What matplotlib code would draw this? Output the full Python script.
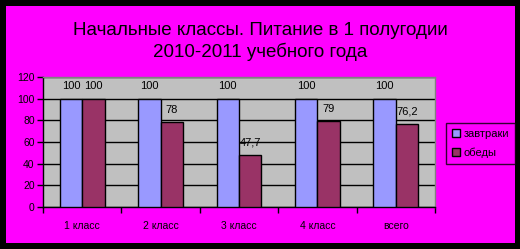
import matplotlib
matplotlib.use("Agg")
import matplotlib.pyplot as plt
import numpy as np
from matplotlib.patches import Rectangle

categories = ["1 класс", "2 класс", "3 класс", "4 класс", "всего"]
zavtraki = [100, 100, 100, 100, 100]
obedy = [100, 78, 47.7, 79, 76.2]
series_names = ["завтраки", "обеды"]
title = "Начальные классы. Питание в 1 полугодии\n2010-2011 учебного года"

plt.rcParams['font.family'] = ['Liberation Sans', 'DejaVu Sans']

W, H = 520, 249
fig = plt.figure(figsize=(W/100, H/100), dpi=100, facecolor='black')
fig.patches.append(Rectangle((6/W, 6/H), 509/W, 237/H, transform=fig.transFigure,
                             facecolor='#FF00FF', edgecolor='none', zorder=-5))

ax = fig.add_axes([43/W, 1-207/H, 392/W, 130/H])
ax.set_facecolor('#C0C0C0')

x = np.arange(len(categories))
bw = 1/3.5
b1 = ax.bar(x - bw/2, zavtraki, bw, color='#9999FF', edgecolor='black', linewidth=1, zorder=3, label=series_names[0])
b2 = ax.bar(x + bw/2, obedy, bw, color='#993366', edgecolor='black', linewidth=1, zorder=3, label=series_names[1])

def fmt(v):
    s = ('%g' % v).replace('.', ',')
    return s

for bars, vals in ((b1, zavtraki), (b2, obedy)):
    for rect, v in zip(bars, vals):
        ax.annotate(fmt(v), (rect.get_x() + rect.get_width()/2, v),
                    xytext=(0, 5.5), textcoords='offset points',
                    ha='center', va='bottom', fontsize=8, color='black', zorder=5)

ax.set_xlim(-0.5, len(categories) - 0.5)
ax.set_ylim(0, 120)
ax.set_yticks(np.arange(0, 121, 20))
ax.yaxis.grid(True, color='black', linewidth=1, zorder=1)
ax.set_axisbelow(True)
ax.set_xticks(x)
ax.set_xticklabels(categories, fontsize=7.5)
ax.set_xticks(np.arange(-0.5, len(categories)), minor=True)
ax.tick_params(axis='x', which='major', length=0, pad=10)
ax.tick_params(axis='x', which='minor', length=4, width=1, color='black', direction='out')
ax.tick_params(axis='y', length=4, width=1, direction='out', labelsize=7.5, pad=2)
for s in ['top', 'right']:
    ax.spines[s].set_color('#808080')
    ax.spines[s].set_linewidth(1)
for s in ['left', 'bottom']:
    ax.spines[s].set_color('black')
    ax.spines[s].set_linewidth(1)

fig.text(0.5, 1-41.5/H, title, ha='center', va='center', fontsize=13.5, linespacing=1.25)

leg = fig.legend(handles=[b1, b2], labels=series_names, loc='upper left',
                 bbox_to_anchor=(446/W, 1-123/H), fontsize=8, frameon=True,
                 fancybox=False, edgecolor='black', facecolor='#FF00FF',
                 handlelength=0.8, handleheight=0.8, handletextpad=0.3,
                 borderpad=0.5, labelspacing=0.8, borderaxespad=0)
leg.get_frame().set_linewidth(1)

fig.savefig('out.png', dpi=100, facecolor='black')
